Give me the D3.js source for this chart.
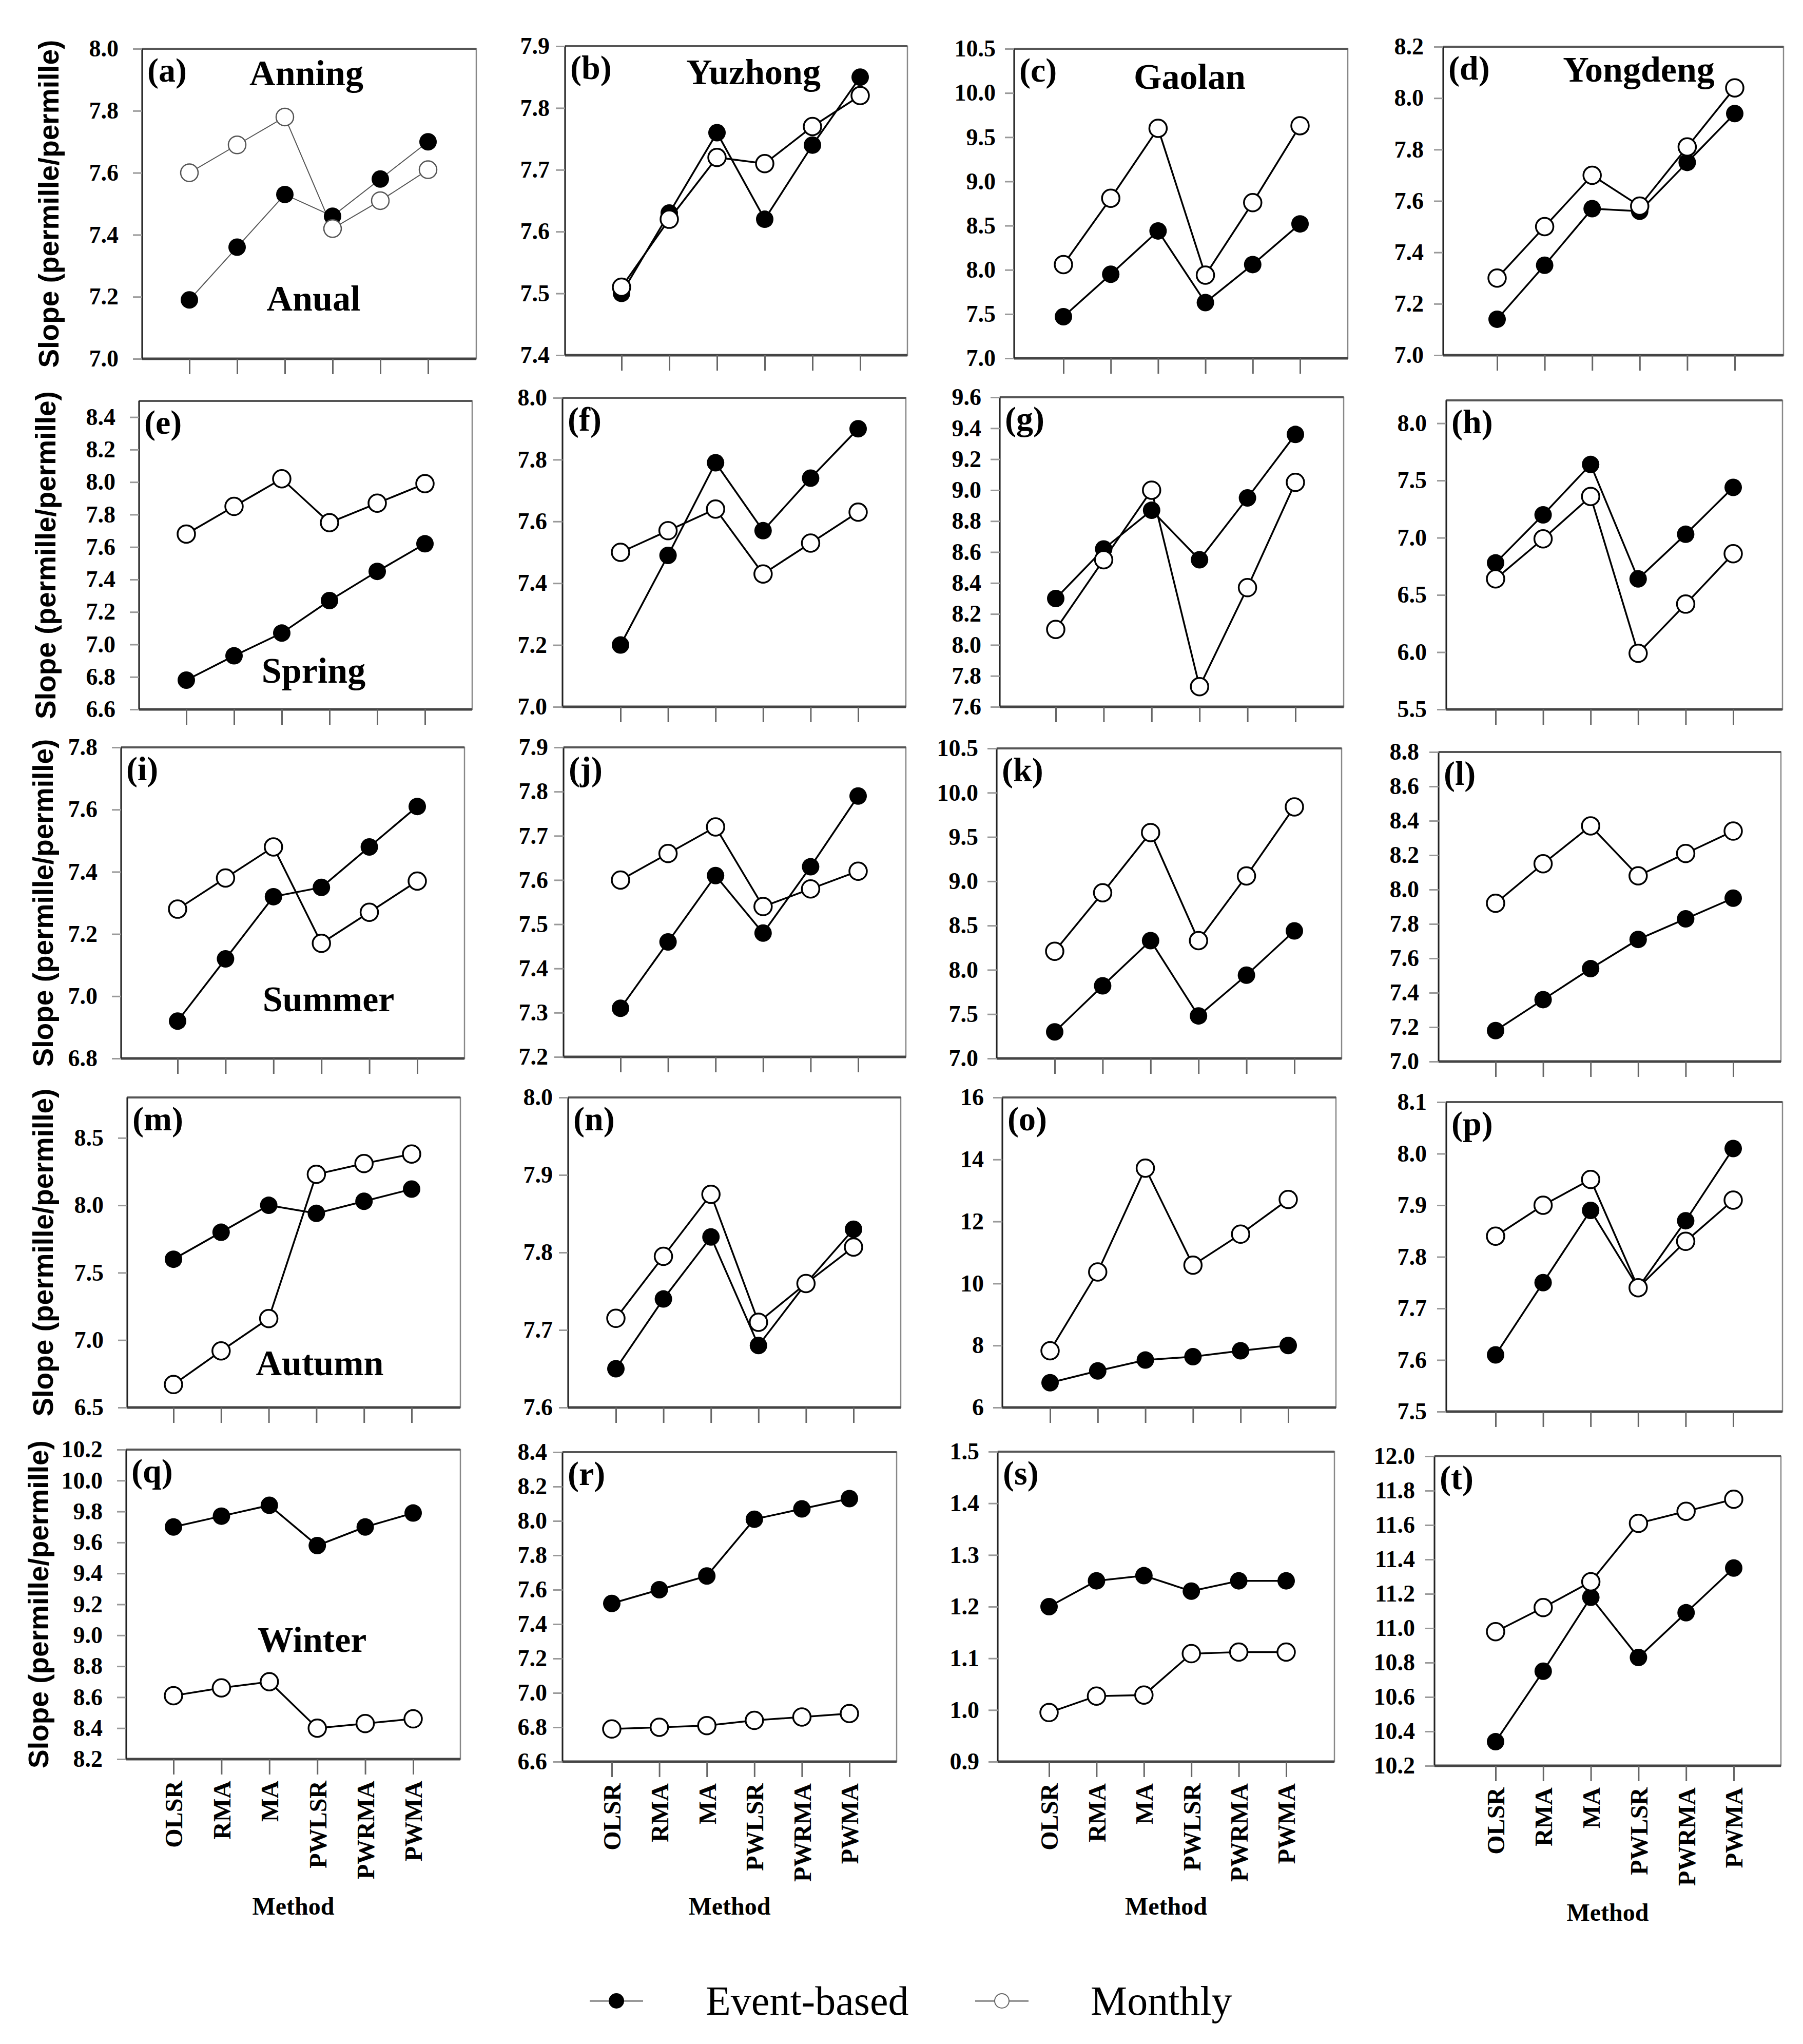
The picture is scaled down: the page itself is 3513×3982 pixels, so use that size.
<!DOCTYPE html>
<html>
<head>
<meta charset="utf-8">
<script src="https://cdn.jsdelivr.net/npm/d3@7"></script>
<style>
  body { margin: 0; background: #fff; }
</style>
</head>
<body>
<div id="chart"></div>
<script>
const methods = ["OLSR", "RMA", "MA", "PWLSR", "PWRMA", "PWMA"];
const stations = ["Anning", "Yuzhong", "Gaolan", "Yongdeng"];
const seasons = ["Anual", "Spring", "Summer", "Autumn", "Winter"];
const letters = ["a","b","c","d","e","f","g","h","i","j","k","l","m","n","o","p","q","r","s","t"];

// slopes, one row per station (Anning, Yuzhong, Gaolan, Yongdeng)
const eventAnnual = [
  [7.19, 7.36, 7.53, 7.46, 7.58, 7.70],
  [7.50, 7.63, 7.76, 7.62, 7.74, 7.85],
  [7.47, 7.95, 8.44, 7.63, 8.06, 8.52],
  [7.14, 7.35, 7.57, 7.56, 7.75, 7.94]
];
const monthlyAnnual = [
  [7.60, 7.69, 7.78, 7.42, 7.51, 7.61],
  [7.51, 7.62, 7.72, 7.71, 7.77, 7.82],
  [8.06, 8.81, 9.60, 7.94, 8.76, 9.63],
  [7.30, 7.50, 7.70, 7.58, 7.81, 8.04]
];
const eventSpring = [
  [6.78, 6.93, 7.07, 7.27, 7.45, 7.62],
  [7.20, 7.49, 7.79, 7.57, 7.74, 7.90],
  [8.30, 8.62, 8.87, 8.55, 8.95, 9.36],
  [6.78, 7.20, 7.64, 6.64, 7.03, 7.44]
];
const monthlySpring = [
  [7.68, 7.85, 8.02, 7.75, 7.87, 7.99],
  [7.50, 7.57, 7.64, 7.43, 7.53, 7.63],
  [8.10, 8.55, 9.00, 7.73, 8.37, 9.05],
  [6.64, 6.99, 7.36, 5.99, 6.42, 6.86]
];
const eventSummer = [
  [6.92, 7.12, 7.32, 7.35, 7.48, 7.61],
  [7.31, 7.46, 7.61, 7.48, 7.63, 7.79],
  [7.30, 7.82, 8.33, 7.48, 7.94, 8.44],
  [7.18, 7.36, 7.54, 7.71, 7.83, 7.95]
];
const monthlySummer = [
  [7.28, 7.38, 7.48, 7.17, 7.27, 7.37],
  [7.60, 7.66, 7.72, 7.54, 7.58, 7.62],
  [8.21, 8.87, 9.55, 8.33, 9.06, 9.84],
  [7.92, 8.15, 8.37, 8.08, 8.21, 8.34]
];
const eventAutumn = [
  [7.60, 7.80, 8.00, 7.94, 8.03, 8.12],
  [7.65, 7.74, 7.82, 7.68, 7.76, 7.83],
  [6.80, 7.18, 7.53, 7.64, 7.83, 8.00],
  [7.61, 7.75, 7.89, 7.74, 7.87, 8.01]
];
const monthlyAutumn = [
  [6.67, 6.92, 7.16, 8.23, 8.31, 8.38],
  [7.715, 7.795, 7.875, 7.71, 7.76, 7.807],
  [7.83, 10.37, 13.72, 10.59, 11.59, 12.71],
  [7.84, 7.90, 7.95, 7.74, 7.83, 7.91]
];
const eventWinter = [
  [9.70, 9.77, 9.84, 9.58, 9.70, 9.79],
  [7.52, 7.60, 7.68, 8.01, 8.07, 8.13],
  [1.20, 1.25, 1.26, 1.23, 1.25, 1.25],
  [10.34, 10.75, 11.18, 10.83, 11.09, 11.35]
];
const monthlyWinter = [
  [8.61, 8.66, 8.70, 8.40, 8.43, 8.46],
  [6.79, 6.80, 6.81, 6.84, 6.86, 6.88],
  [0.995, 1.027, 1.029, 1.109, 1.112, 1.112],
  [10.98, 11.12, 11.27, 11.61, 11.68, 11.75]
];

// y tick labels of each panel (a..t)
const yTicks = [
  [7.0, 7.2, 7.4, 7.6, 7.8, 8.0],
  [7.4, 7.5, 7.6, 7.7, 7.8, 7.9],
  [7.0, 7.5, 8.0, 8.5, 9.0, 9.5, 10.0, 10.5],
  [7.0, 7.2, 7.4, 7.6, 7.8, 8.0, 8.2],
  [6.6, 6.8, 7.0, 7.2, 7.4, 7.6, 7.8, 8.0, 8.2, 8.4],
  [7.0, 7.2, 7.4, 7.6, 7.8, 8.0],
  [7.6, 7.8, 8.0, 8.2, 8.4, 8.6, 8.8, 9.0, 9.2, 9.4, 9.6],
  [5.5, 6.0, 6.5, 7.0, 7.5, 8.0],
  [6.8, 7.0, 7.2, 7.4, 7.6, 7.8],
  [7.2, 7.3, 7.4, 7.5, 7.6, 7.7, 7.8, 7.9],
  [7.0, 7.5, 8.0, 8.5, 9.0, 9.5, 10.0, 10.5],
  [7.0, 7.2, 7.4, 7.6, 7.8, 8.0, 8.2, 8.4, 8.6, 8.8],
  [6.5, 7.0, 7.5, 8.0, 8.5],
  [7.6, 7.7, 7.8, 7.9, 8.0],
  [6, 8, 10, 12, 14, 16],
  [7.5, 7.6, 7.7, 7.8, 7.9, 8.0, 8.1],
  [8.2, 8.4, 8.6, 8.8, 9.0, 9.2, 9.4, 9.6, 9.8, 10.0, 10.2],
  [6.6, 6.8, 7.0, 7.2, 7.4, 7.6, 7.8, 8.0, 8.2, 8.4],
  [0.9, 1.0, 1.1, 1.2, 1.3, 1.4, 1.5],
  [10.2, 10.4, 10.6, 10.8, 11.0, 11.2, 11.4, 11.6, 11.8, 12.0]
];
const yDomains = [
  [7.0, 8.0], [7.4, 7.9], [7.0, 10.5], [7.0, 8.2],
  [6.6, 8.5], [7.0, 8.0], [7.6, 9.6], [5.5, 8.2],
  [6.8, 7.8], [7.2, 7.9], [7.0, 10.5], [7.0, 8.8],
  [6.5, 8.8], [7.6, 8.0], [6, 16], [7.5, 8.1],
  [8.2, 10.2], [6.6, 8.4], [0.9, 1.5], [10.2, 12.0]
];

const eventSeries = [eventAnnual, eventSpring, eventSummer, eventAutumn, eventWinter];
const monthlySeries = [monthlyAnnual, monthlySpring, monthlySummer, monthlyAutumn, monthlyWinter];

const W = 3513, H = 3982;
const serif = "'Liberation Serif', 'Times New Roman', serif";

const svg = d3.select("#chart").append("svg")
  .attr("width", W)
  .attr("height", H)
  .style("background", "#fff");

// panel boxes: left, right, top, bottom, x of first and last method
const frames = [
  [277, 928, 95, 699, 369, 834],
  [1101, 1768, 90, 692, 1211, 1676],
  [1976, 2626, 95, 698, 2072, 2533],
  [2812, 3475, 91, 692, 2917, 3380],
  [271, 920, 781, 1382, 363, 828],
  [1096, 1765, 775, 1377, 1209, 1672],
  [1948, 2618, 774, 1377, 2057, 2524],
  [2818, 3473, 780, 1382, 2914, 3377],
  [236, 905, 1456, 2062, 346, 813],
  [1098, 1765, 1456, 2059, 1209, 1672],
  [1942, 2614, 1458, 2062, 2055, 2522],
  [2803, 3470, 1465, 2068, 2914, 3377],
  [248, 897, 2138, 2742, 338, 802],
  [1107, 1755, 2138, 2742, 1200, 1663],
  [1953, 2603, 2138, 2742, 2046, 2510],
  [2818, 3473, 2147, 2750, 2914, 3377],
  [246, 897, 2824, 3427, 338, 805],
  [1096, 1747, 2829, 3432, 1192, 1655],
  [1944, 2600, 2828, 3432, 2044, 2506],
  [2795, 3470, 2837, 3440, 2914, 3378]
];
const tickPad = [28, 12, 18, 20];
const titleX = [95, 89, 84, 84, 75];
const seasonPos = [[611, 605], [611, 1330], [640, 1970], [623, 2679], [608, 3218]];
const stationPos = [[597, 166], [1468, 164], [2318, 173], [3193, 159]];

frames.forEach((f, p) => {
  const row = Math.floor(p / 4), col = p % 4;
  const [left, right, top, bottom, x0, x5] = f;

  const x = d3.scalePoint().domain(methods).range([x0, x5]);
  const y = d3.scaleLinear().domain(yDomains[p]).range([bottom, top]);
  const g = svg.append("g");

  // box
  g.append("rect")
    .attr("x", left).attr("y", top)
    .attr("width", right - left).attr("height", bottom - top)
    .attr("fill", "none").attr("stroke", "#888").attr("stroke-width", 2.5);
  g.append("line").attr("x1", left).attr("x2", right).attr("y1", top).attr("y2", top)
    .attr("stroke", "#555").attr("stroke-width", 4);
  g.append("line").attr("x1", left).attr("x2", right).attr("y1", bottom).attr("y2", bottom)
    .attr("stroke", "#444").attr("stroke-width", 5);
  g.append("line").attr("x1", left).attr("x2", left).attr("y1", top).attr("y2", bottom)
    .attr("stroke", "#222").attr("stroke-width", 3);

  // y axis
  const fmt = p === 14 ? d3.format("d") : d3.format(".1f");
  const ya = g.append("g")
    .attr("transform", `translate(${left},0)`)
    .call(d3.axisLeft(y).tickValues(yTicks[p]).tickFormat(fmt).tickSize(18).tickPadding(tickPad[col]));
  ya.select(".domain").remove();
  ya.selectAll(".tick line").attr("stroke", "#999").attr("stroke-width", 3);
  ya.selectAll(".tick text")
    .attr("font-family", serif).attr("font-weight", "bold")
    .attr("font-size", 46).attr("fill", "#000");

  // x axis
  const xa = g.append("g")
    .attr("transform", `translate(0,${bottom})`)
    .call(d3.axisBottom(x).tickSize(30).tickFormat(row === 4 ? d => d : ""));
  xa.select(".domain").remove();
  xa.selectAll(".tick line").attr("stroke", "#666").attr("stroke-width", 3);
  if (row === 4) {
    xa.selectAll(".tick text")
      .attr("y", null)
      .attr("dy", "0.35em")
      .attr("text-anchor", "end")
      .attr("transform", "translate(0,42) rotate(-90)")
      .attr("font-family", serif).attr("font-weight", "bold")
      .attr("font-size", 48).attr("fill", "#000");
    svg.append("text")
      .attr("x", (left + right) / 2).attr("y", p === 19 ? 3742 : 3730)
      .attr("text-anchor", "middle")
      .attr("font-family", serif).attr("font-weight", "bold").attr("font-size", 48)
      .text("Method");
  }

  // series
  const light = p === 0;
  const line = d3.line().x((d, i) => x(methods[i])).y(d => y(d));
  const ev = eventSeries[row][col], mo = monthlySeries[row][col];
  [ev, mo].forEach(s => {
    g.append("path").datum(s).attr("d", line)
      .attr("fill", "none")
      .attr("stroke", light ? "#555" : "#000")
      .attr("stroke-width", light ? 2 : 3.5);
  });
  g.selectAll(".ev").data(ev).join("circle")
    .attr("cx", (d, i) => x(methods[i])).attr("cy", d => y(d))
    .attr("r", 17).attr("fill", "#000");
  g.selectAll(".mo").data(mo).join("circle")
    .attr("cx", (d, i) => x(methods[i])).attr("cy", d => y(d))
    .attr("r", 17).attr("fill", "#fff")
    .attr("stroke", light ? "#555" : "#000").attr("stroke-width", light ? 2.5 : 3.5);

  // panel letter
  g.append("text")
    .attr("x", left + 10).attr("y", top + 64)
    .attr("font-family", serif).attr("font-weight", "bold").attr("font-size", 66)
    .text(`(${letters[p]})`);

  if (row === 0) {
    g.append("text")
      .attr("x", stationPos[col][0]).attr("y", stationPos[col][1])
      .attr("text-anchor", "middle")
      .attr("font-family", serif).attr("font-weight", "bold").attr("font-size", 70)
      .text(stations[col]);
  }
  if (col === 0) {
    g.append("text")
      .attr("x", seasonPos[row][0]).attr("y", seasonPos[row][1])
      .attr("text-anchor", "middle")
      .attr("font-family", serif).attr("font-weight", "bold").attr("font-size", 70)
      .text(seasons[row]);
    g.append("text")
      .attr("transform", `translate(${titleX[row]},${(top + bottom) / 2}) rotate(-90)`)
      .attr("text-anchor", "middle")
      .attr("dy", "0.35em")
      .attr("font-family", "'Liberation Sans', Arial, sans-serif")
      .attr("font-weight", "bold").attr("font-size", 55)
      .text("Slope (permille/permille)");
  }
});

// legend
const legendItems = [
  { name: "Event-based", fill: "#000", lx: 1149, tx: 1375 },
  { name: "Monthly", fill: "#fff", lx: 1900, tx: 2125 }
];
const legend = svg.append("g");
legendItems.forEach(d => {
  legend.append("line")
    .attr("x1", d.lx).attr("x2", d.lx + 104).attr("y1", 3898).attr("y2", 3898)
    .attr("stroke", "#999").attr("stroke-width", 4);
  legend.append("circle")
    .attr("cx", d.lx + 52).attr("cy", 3898).attr("r", 14)
    .attr("fill", d.fill).attr("stroke", d.fill === "#000" ? "#000" : "#666").attr("stroke-width", 2);
  legend.append("text")
    .attr("x", d.tx).attr("y", 3925)
    .attr("font-family", serif).attr("font-size", 80)
    .text(d.name);
});
</script>
</body>
</html>
